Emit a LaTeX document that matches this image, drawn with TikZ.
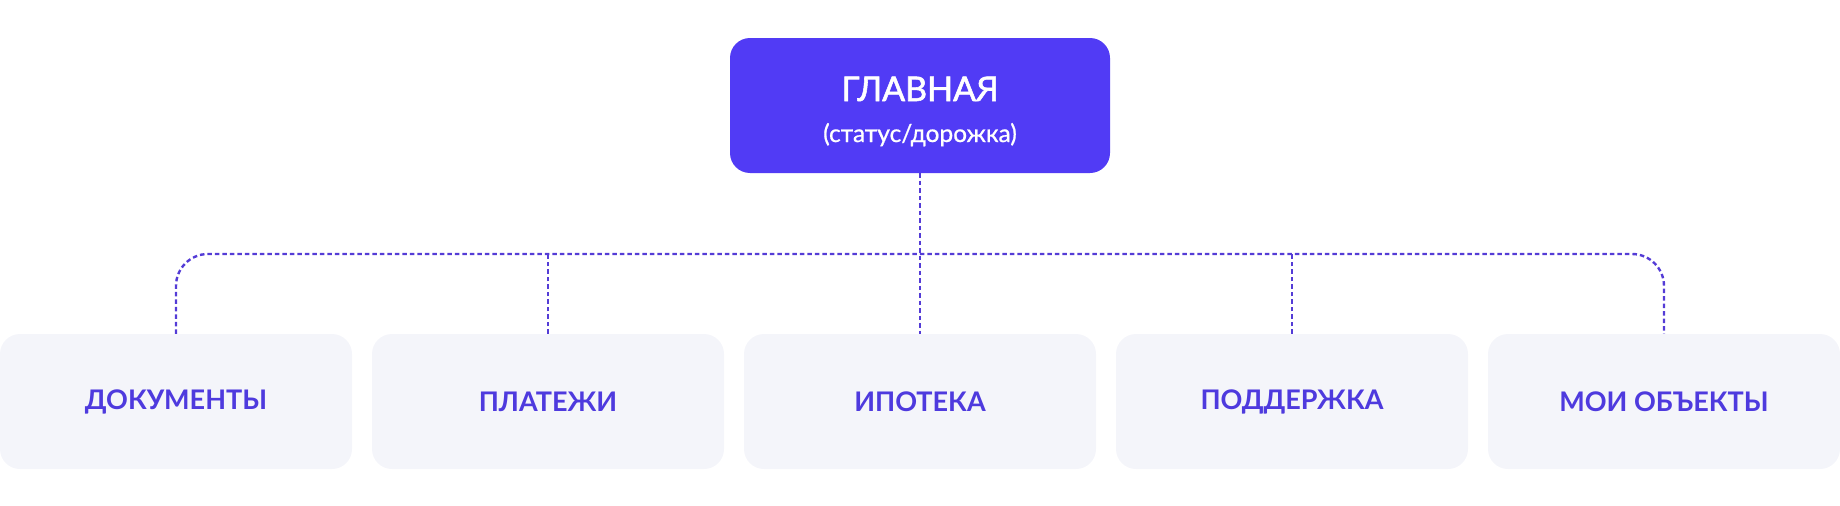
\documentclass[tikz,border=0pt]{standalone}
\usepackage{fontspec}
\setmainfont{Lato}
\definecolor{mainblue}{RGB}{81,59,245}
\definecolor{cardbg}{RGB}{244,245,250}
\definecolor{cardtext}{RGB}{78,58,222}
\definecolor{linecol}{RGB}{84,60,214}
\tikzset{
  mainbox/.style={draw=none, fill=mainblue, rounded corners=20pt, minimum width=380pt, minimum height=135pt, inner sep=0pt},
  card/.style={draw=none, fill=cardbg, rounded corners=20pt, minimum width=352pt, minimum height=135pt, inner sep=0pt,
    text=cardtext, font=\fontsize{27}{30}\selectfont\bfseries},
  conn/.style={draw=linecol, line width=2.4pt, dash pattern=on 4.5pt off 3pt},
}
\begin{document}
\begin{tikzpicture}[x=1pt,y=-1pt]
\useasboundingbox (0,0) rectangle (1840,506);
\node[mainbox] (top) at (920,105.5) {};
\node[anchor=base, text=white, font=\fontsize{34}{40}\selectfont\addfontfeature{FakeBold=1.6}] (ttl) at (920,101) {ГЛАВНАЯ};
\node[anchor=base, text=white, font=\fontsize{24.5}{28}\selectfont\addfontfeature{FakeBold=0.8}] (sub) at (920,142) {(статус/дорожка)};
\node[card] (d1) at (176,401.5) {ДОКУМЕНТЫ};
\node[card] (d2) at (548,401.5) {ПЛАТЕЖИ};
\node[card] (d3) at (920,401.5) {ИПОТЕКА};
\node[card] (d4) at (1292,401.5) {ПОДДЕРЖКА};
\node[card] (d5) at (1664,401.5) {МОИ ОБЪЕКТЫ};
\coordinate (bus) at (0,254);
\draw[conn, rounded corners=32pt] (d1.north) |- (d5.north |- bus) -- (d5.north);
\draw[conn] (top.south) -- (d3.north);
\draw[conn] (d2.north) -- (d2.north |- bus);
\draw[conn] (d4.north) -- (d4.north |- bus);
\end{tikzpicture}
\end{document}
